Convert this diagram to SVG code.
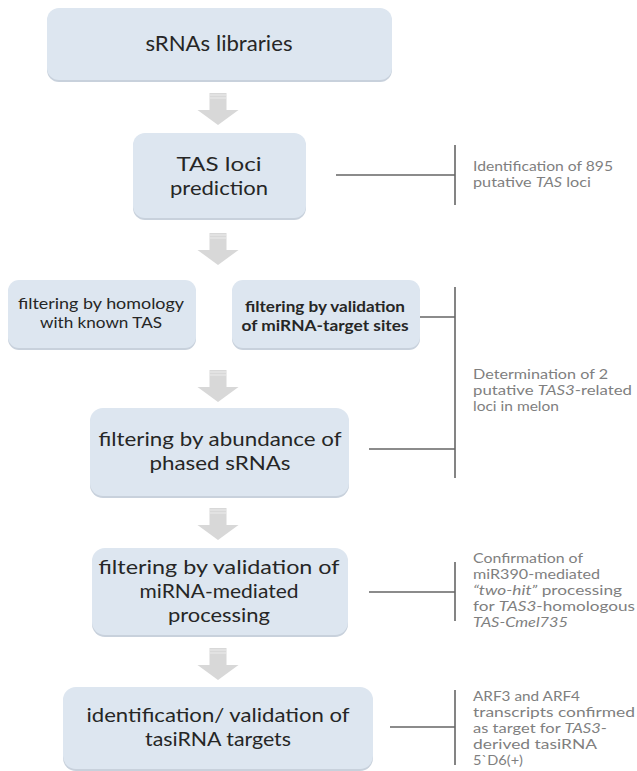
<svg xmlns="http://www.w3.org/2000/svg" xmlns:xlink="http://www.w3.org/1999/xlink" width="637" height="771" viewBox="0 0 637 771">
<style>
.box{fill:#dde6f0;}
.shd{fill:#c8d1dc;}
.bt{font-family:Lato,"Open Sans","Liberation Sans",sans-serif;fill:#262626;text-anchor:middle;}
.st{font-family:Lato,"Open Sans","Liberation Sans",sans-serif;fill:#7f7f7f;font-size:13.3px;}
.ln{stroke:#666666;stroke-width:1.6;fill:none;}
.it{font-style:italic;}
</style>
<defs>
<g id="arr">
<path d="M-8.5,0 h17 v17 h12 l-20.5,15 l-20.5,-15 h12 z" fill="#d8d8d8"/>
<path d="M-8.5,2 h17 M-8.5,5 h17" stroke="#ececec" stroke-width="1"/>
</g>
</defs>
<rect width="637" height="771" fill="#ffffff"/>

<g id="connectors">
<use xlink:href="#arr" x="218" y="93"/>
<use xlink:href="#arr" x="218" y="233"/>
<use xlink:href="#arr" x="218" y="370"/>
<use xlink:href="#arr" x="218" y="508"/>
<use xlink:href="#arr" x="218" y="648"/>
<path class="ln" d="M336,175 H455 M455,145 V205"/>
<path class="ln" d="M420,317 H455 M369,449 H455 M455,287 V478"/>
<path class="ln" d="M369,592 H455 M455,562 V621"/>
<path class="ln" d="M390,727 H455 M455,690 V765"/>
</g>

<g id="n1">
<rect class="shd" x="47" y="10" width="345" height="72" rx="12"/>
<rect class="box" x="47" y="8" width="345" height="72" rx="12"/>
<text class="bt" x="219" y="51" font-size="21" textLength="147" lengthAdjust="spacingAndGlyphs">sRNAs libraries</text>
</g>

<g id="n2">
<rect class="shd" x="133" y="135" width="173" height="85" rx="12"/>
<rect class="box" x="133" y="133" width="173" height="85" rx="12"/>
<text class="bt" x="219" y="171" font-size="20" textLength="85" lengthAdjust="spacingAndGlyphs">TAS loci</text>
<text class="bt" x="219" y="195" font-size="20" textLength="98" lengthAdjust="spacingAndGlyphs">prediction</text>
</g>

<g id="s1">
<text class="st" x="473" y="171" textLength="140" lengthAdjust="spacingAndGlyphs">Identification of 895</text>
<text class="st" x="473" y="187" textLength="118" lengthAdjust="spacingAndGlyphs">putative <tspan class="it">TAS</tspan> loci</text>
</g>

<g id="n3a">
<rect class="shd" x="8" y="282" width="188" height="68" rx="11"/>
<rect class="box" x="8" y="280" width="188" height="68" rx="11"/>
<text class="bt" x="101" y="309" font-size="15" textLength="166" lengthAdjust="spacingAndGlyphs">filtering by homology</text>
<text class="bt" x="101" y="327.5" font-size="15" textLength="122" lengthAdjust="spacingAndGlyphs">with known TAS</text>
</g>

<g id="n3b">
<rect class="shd" x="232" y="282" width="188" height="68" rx="11"/>
<rect class="box" x="232" y="280" width="188" height="68" rx="11"/>
<text class="bt" x="325" y="312" font-size="15" font-weight="bold" textLength="160" lengthAdjust="spacingAndGlyphs">filtering by validation</text>
<text class="bt" x="325" y="330.5" font-size="15" font-weight="bold" textLength="167" lengthAdjust="spacingAndGlyphs">of miRNA-target sites</text>
</g>

<g id="s2">
<text class="st" x="473" y="379" textLength="135" lengthAdjust="spacingAndGlyphs">Determination of 2</text>
<text class="st" x="473" y="395" textLength="159" lengthAdjust="spacingAndGlyphs">putative <tspan class="it">TAS3</tspan>-related</text>
<text class="st" x="473" y="411" textLength="86" lengthAdjust="spacingAndGlyphs">loci in melon</text>
</g>

<g id="n4">
<rect class="shd" x="90" y="410" width="259" height="88" rx="13"/>
<rect class="box" x="90" y="408" width="259" height="88" rx="13"/>
<text class="bt" x="220" y="446" font-size="20" textLength="243" lengthAdjust="spacingAndGlyphs">filtering by abundance of</text>
<text class="bt" x="220" y="470" font-size="20" textLength="141" lengthAdjust="spacingAndGlyphs">phased sRNAs</text>
</g>

<g id="n5">
<rect class="shd" x="92" y="550" width="256" height="87" rx="13"/>
<rect class="box" x="92" y="548" width="256" height="87" rx="13"/>
<text class="bt" x="219" y="574" font-size="20" textLength="241" lengthAdjust="spacingAndGlyphs">filtering by validation of</text>
<text class="bt" x="219" y="598" font-size="20" textLength="159" lengthAdjust="spacingAndGlyphs">miRNA-mediated</text>
<text class="bt" x="219" y="622" font-size="20" textLength="102" lengthAdjust="spacingAndGlyphs">processing</text>
</g>

<g id="s3">
<text class="st" x="473" y="563" textLength="110" lengthAdjust="spacingAndGlyphs">Confirmation of</text>
<text class="st" x="473" y="579" textLength="127" lengthAdjust="spacingAndGlyphs">miR390-mediated</text>
<text class="st" x="473" y="595" textLength="149" lengthAdjust="spacingAndGlyphs"><tspan class="it">“two-hit”</tspan> processing</text>
<text class="st" x="473" y="611" textLength="162" lengthAdjust="spacingAndGlyphs">for  <tspan class="it">TAS3</tspan>-homologous</text>
<text class="st it" x="473" y="627" textLength="95" lengthAdjust="spacingAndGlyphs">TAS-Cmel735</text>
</g>

<g id="n6">
<rect class="shd" x="63" y="689" width="310" height="82" rx="13"/>
<rect class="box" x="63" y="687" width="310" height="82" rx="13"/>
<text class="bt" x="218" y="722" font-size="20" textLength="263" lengthAdjust="spacingAndGlyphs">identification/ validation of</text>
<text class="bt" x="218" y="746" font-size="20" textLength="146" lengthAdjust="spacingAndGlyphs">tasiRNA targets</text>
</g>

<g id="s4">
<text class="st" x="473" y="701" textLength="107" lengthAdjust="spacingAndGlyphs">ARF3 and ARF4</text>
<text class="st" x="473" y="717" textLength="162" lengthAdjust="spacingAndGlyphs">transcripts confirmed</text>
<text class="st" x="473" y="733" textLength="134" lengthAdjust="spacingAndGlyphs">as target for <tspan class="it">TAS3</tspan>-</text>
<text class="st" x="473" y="749" textLength="124" lengthAdjust="spacingAndGlyphs">derived tasiRNA</text>
<text class="st" x="473" y="765" textLength="50" lengthAdjust="spacingAndGlyphs">5`D6(+)</text>
</g>
</svg>
